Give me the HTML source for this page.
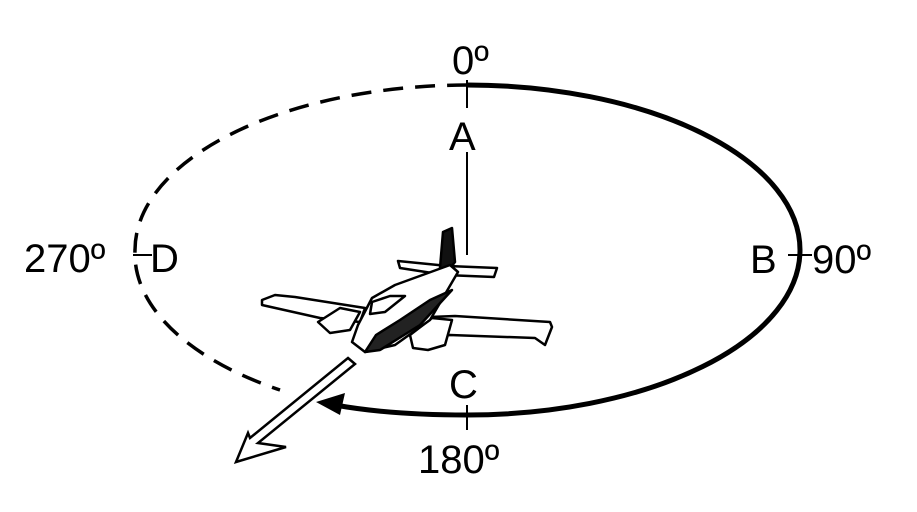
<!DOCTYPE html>
<html><head><style>
html,body{margin:0;padding:0;background:#fff;}
svg{display:block;}
text{font-family:"Liberation Sans",sans-serif;fill:#000;}
</style></head><body>
<svg width="917" height="512" viewBox="0 0 917 512" xmlns="http://www.w3.org/2000/svg">
<!-- solid arc: top -> right -> bottom -> to arrow -->
<path d="M467,85 A333,165 0 0 1 800,250 A333,165 0 0 1 467,415 Q390,415 335,405" fill="none" stroke="#000" stroke-width="5"/>
<polygon points="316,402 345,393 340,415" fill="#000"/>
<!-- dashed arc -->
<path d="M467,85 A333,165 0 0 0 135,250 A333,165 0 0 0 280,390" fill="none" stroke="#000" stroke-width="3.5" stroke-dasharray="20,12"/>
<!-- ticks -->
<line x1="467" y1="80" x2="467" y2="108" stroke="#000" stroke-width="2"/>
<line x1="467" y1="152" x2="467" y2="255" stroke="#000" stroke-width="2"/>
<line x1="467" y1="405" x2="467" y2="430" stroke="#000" stroke-width="2"/>
<line x1="788" y1="255" x2="812" y2="255" stroke="#000" stroke-width="2"/>
<line x1="133" y1="255" x2="152" y2="255" stroke="#000" stroke-width="2"/>
<!-- labels -->
<text x="452" y="74" font-size="40">0º</text>
<text x="449" y="150" font-size="40">A</text>
<text x="24" y="272" font-size="40">270º</text>
<text x="150" y="272" font-size="40">D</text>
<text x="750" y="273" font-size="40">B</text>
<text x="812" y="273" font-size="40">90º</text>
<text x="449" y="398" font-size="40">C</text>
<text x="418" y="473" font-size="40">180º</text>
<!-- hollow arrow -->
<polygon points="348,358 355,364 258,443 286,447 236,462 248,433 250,438" fill="#fff" stroke="#000" stroke-width="2.5" stroke-linejoin="miter"/>
<!-- airplane -->
<g stroke="#000" stroke-width="2.5" fill="#fff" stroke-linejoin="round">
<polygon points="398,261 448,266 497,268 494,277 445,275 400,268"/>
<polygon points="443,232 452,228 455,262 447,272 440,268" fill="#111"/>
<polygon points="262,300 275,295 295,297 365,308 360,322 320,318 262,305"/>
<polygon points="405,318 455,316 550,322 552,327 545,345 535,338 450,335 410,336"/>
<polygon points="410,335 432,318 452,320 445,345 428,350 413,348"/>
<polygon points="318,322 340,308 360,312 350,330 330,333"/>
<polygon points="450,265 458,272 430,320 395,345 365,352 352,342 358,325 372,298 395,285"/>
<polygon points="400,320 430,300 452,290 420,325 380,350 365,352 376,335" fill="#222"/>
<polygon points="372,302 390,296 405,296 385,312 370,314" fill="#fff"/>
</g>
</svg>
</body></html>
